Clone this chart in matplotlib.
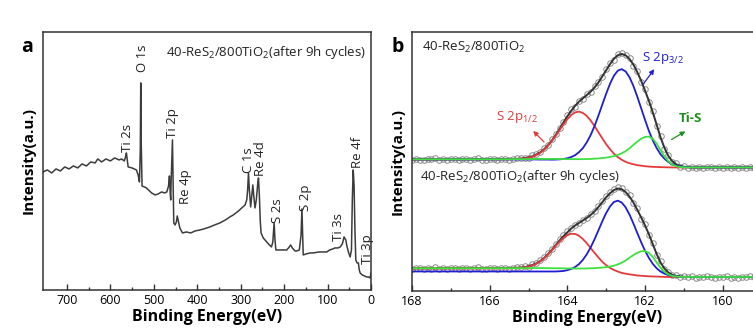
import numpy as np
import matplotlib
matplotlib.use("Agg")
import matplotlib.pyplot as plt

plt.rcParams['font.family'] = ['Open Sans', 'DejaVu Sans']
plt.rcParams['mathtext.fontset'] = 'custom'
plt.rcParams['mathtext.rm'] = 'Open Sans'
plt.rcParams['mathtext.it'] = 'Open Sans:italic'
plt.rcParams['mathtext.bf'] = 'Open Sans:bold'

# ---- panel a: survey spectrum (binding energy, intensity a.u.)
survey_E = [755, 745, 735, 725, 715, 705, 695, 685, 675, 665, 655, 645, 635, 629, 620, 610,
            600, 590, 580, 574, 568, 565, 563, 561, 559, 550, 540, 536, 533, 531, 530, 529,
            527, 522, 517, 510, 505, 497, 490, 482, 475, 470, 466, 464, 462, 461, 460, 458,
            457, 456, 455, 454, 451, 448, 446, 444, 440, 434, 425, 415, 405, 394, 385, 371,
            360, 348, 335, 325, 317, 305, 295, 290, 286, 284, 282, 280, 277, 275, 272, 270,
            267, 264, 261, 259, 257, 255, 253, 248, 240, 234, 229, 226, 223, 221, 219, 210,
            200, 194, 188, 185, 181, 175, 171, 165, 161, 159, 157, 156, 150, 140, 133, 120,
            110, 102, 95, 88, 83, 76, 71, 66, 62, 58, 56, 52, 48, 45, 43, 41,
            39, 37, 35, 32, 29, 27, 25, 20, 15, 10, 6, 2, 0]
survey_I = [118, 120, 117, 121, 119, 123, 121, 124, 122, 126, 124, 128, 127, 131, 128, 131,
            129, 132, 130, 131, 129, 133, 137, 130, 123, 122, 120, 115, 108, 140, 207, 150,
            104, 103, 102, 99, 97, 95, 96, 98, 97, 98, 104, 114, 95, 90, 110, 135,
            150, 120, 85, 67, 65, 68, 74, 70, 62, 57, 58, 57, 59, 60, 61, 63,
            65, 67, 70, 73, 75, 79, 83, 85, 90, 100, 117, 100, 83, 92, 105, 95,
            82, 90, 105, 112, 95, 70, 57, 52, 48, 45, 43, 48, 67, 50, 40, 40,
            40, 40, 43, 45, 42, 39, 39, 40, 55, 81, 50, 35, 36, 37, 37, 38,
            38, 38, 40, 41, 42, 42, 43, 46, 53, 50, 45, 38, 33, 40, 90, 120,
            105, 60, 30, 27, 27, 20, 17, 15, 14, 13, 13, 12, 17]

peak_labels = ['Ti 2s', 'O 1s', 'Ti 2p', 'Re 4p', 'C 1s', 'Re 4d', 'S 2s', 'S 2p',
               'Ti 3s', 'Re 4f', 'Ti 3p']
label_E = [560, 526, 456, 428, 281, 254, 216, 150, 74, 32, 7]
label_I = [138, 218, 152, 86, 117, 114, 67, 79, 49, 122, 26]

# ---- panel b: S 2p high resolution
E_fit = np.concatenate([[168.0, 165.5], np.round(np.arange(165.4, 160.55, -0.1), 1), [159.0]])
E_data = np.round(np.arange(168.0, 159.15, -0.1), 1)

# before cycling (upper spectrum)
top_red = [131.5, 131.6,
           131.7, 131.8, 132.0, 132.5, 133.2, 134.2, 135.9, 138.0, 141.1, 145.0,
           149.7, 155.1, 160.8, 166.6, 171.7, 175.9, 178.5, 179.3, 178.0, 175.0,
           170.4, 164.9, 158.7, 152.6, 146.7, 141.6, 137.3, 133.8, 131.2, 129.1,
           127.7, 126.7, 125.8, 125.3, 124.7, 124.4, 124.1, 124.0, 123.8, 123.7,
           123.6, 123.5, 123.5, 123.5, 123.5, 123.5, 123.5, 123.5, 123.5,
           123.5]
top_blue = [131.5, 131.5,
            131.5, 131.5, 131.5, 131.5, 131.5, 131.5, 131.5, 131.4, 131.4, 131.4, 131.3,
            131.4, 131.6, 132.0, 132.7, 133.9, 135.8, 138.8, 142.8, 148.6, 155.9,
            164.9, 175.3, 186.4, 197.3, 207.3, 215.3, 220.3, 221.8, 219.5, 213.7,
            205.0, 194.3, 182.7, 171.0, 160.0, 150.5, 142.8, 136.6, 132.2, 128.9,
            126.7, 125.4, 124.5, 124.0, 123.8, 123.5, 123.5, 123.5,
            123.5]
top_green = [131.6, 131.7,
             131.8, 131.8, 131.8, 131.8, 131.9, 131.9, 132.0, 132.0, 132.0, 132.0,
             132.0, 132.0, 131.9, 131.9, 131.8, 131.8, 131.8, 131.8, 131.8,
             131.9, 132.0, 132.3, 132.5, 132.9, 133.3, 134.0, 134.8, 136.0, 137.6,
             139.8, 142.6, 146.0, 149.3, 152.2, 154.0, 154.4, 152.2, 147.3, 140.7,
             134.5, 129.7, 126.5, 124.8, 124.0, 123.7, 123.5, 123.5, 123.5, 123.5,
             123.5]
top_env = [131.5, 131.9,
           132.0, 132.1, 132.3,
           132.8, 133.6, 134.6, 136.4, 138.5, 141.7, 145.6, 150.4, 155.9, 162.1,
           168.5, 174.6, 180.2, 185.1, 189.3, 192.6, 195.9, 199.3, 203.5, 208.5,
           214.5, 220.7, 226.9, 232.2, 235.7, 237.0, 235.6, 232.0, 226.3, 218.8,
           210.2, 200.3, 190.0, 178.6, 166.1, 153.5, 143.0, 135.0, 129.7, 126.7,
           125.0, 124.2, 123.8, 123.5, 123.5, 123.5,
           123.5]
top_data = [131.0, 132.2, 131.4, 130.8, 132.0, 131.6, 132.5, 131.1, 131.9, 130.9,
            132.3, 131.5, 131.2, 132.4, 131.7, 130.9, 131.8, 132.6, 131.3, 131.0,
            132.1, 131.6, 130.8, 131.9, 132.3, 131.4, 131.8, 132.5,
            132.9, 133.4, 133.0, 135.5, 137.2, 139.4, 142.8, 146.1, 151.5, 157.0,
            163.4, 169.2, 176.0, 181.5, 184.2, 190.1, 191.8, 196.9, 198.5, 204.6,
            209.3, 213.8, 222.0, 227.5, 231.4, 236.9, 238.0, 236.2, 233.1, 225.4,
            219.9, 209.1, 201.5, 189.0, 179.8, 165.0, 154.6, 142.1, 136.0, 129.0,
            127.5, 124.3, 125.0, 123.0, 124.2, 122.9, 123.8,
            123.1, 124.0, 123.5, 122.8, 123.9, 123.2, 124.1, 123.0, 123.6, 122.9,
            123.8, 123.3, 124.0, 123.1]

# after 9h cycles (lower spectrum)
bot_red = [22.5, 22.6,
           22.7, 22.8, 23.1, 23.5, 24.3, 25.5, 27.1, 29.5, 32.4, 36.2,
           40.4, 44.9, 49.3, 53.0, 55.8, 57.2, 57.0, 55.2, 51.9, 47.8,
           43.0, 38.1, 33.5, 29.2, 25.8,
           23.0, 21.0, 19.4, 18.1, 17.3, 16.6, 16.1, 15.5, 15.2, 14.9,
           14.7, 14.5, 14.4, 14.2, 14.1, 14.0,
           14.0, 14.0, 14.0, 14.0, 14.0, 14.0, 14.0, 14.0,
           14.0]
bot_blue = [19.5, 19.5,
            19.5, 19.5, 19.5, 19.5, 19.5, 19.5, 19.5, 19.5, 19.5, 19.5, 19.5,
            19.5, 19.7, 20.0, 20.8, 22.0, 24.0, 26.9, 31.1, 36.7, 43.6,
            51.7, 60.6, 69.7, 78.0, 84.6, 89.0, 90.3, 88.4, 83.6, 76.4,
            67.5, 58.0, 48.7, 40.2, 33.0, 27.1, 22.6, 19.4, 17.3, 16.0,
            15.0, 14.5, 14.3, 14.0, 14.0, 14.0, 14.0, 14.0,
            14.0]
bot_green = [22.7, 22.8,
             22.8, 22.8, 22.8, 22.8, 22.85, 22.9, 22.9, 22.9, 22.85, 22.8,
             22.75, 22.7, 22.7, 22.6, 22.5, 22.5, 22.45, 22.45, 22.45, 22.55,
             22.7, 22.8, 23.1, 23.4, 23.8, 24.4, 25.3, 26.6, 28.3, 30.5,
             33.2, 35.9, 38.2, 39.6, 39.9, 38.1, 33.9, 28.5, 23.2, 19.2,
             16.6, 15.1, 14.4, 14.2, 14.0, 14.0, 14.0, 14.0, 14.0,
             14.0]
bot_env = [22.6, 23.0,
           23.1, 23.2, 23.4, 23.8, 24.7, 25.9, 27.5, 29.9, 32.9, 36.7,
           41.0, 45.8, 50.5, 54.8, 58.6, 62.5, 65.5, 68.0, 70.5, 73.0,
           76.0, 79.5, 84.0, 88.7, 93.7, 97.8, 100.9, 102.4, 101.7, 98.9,
           94.4, 88.4, 81.2, 73.5, 65.5, 56.6, 46.7, 36.9, 28.5, 22.4,
           18.5, 16.1, 14.9, 14.5, 14.2, 14.0, 14.0, 14.0, 14.0,
           14.0]
bot_data = [22.0, 23.3, 22.6, 21.8, 23.0, 22.4, 23.5, 22.1, 22.9, 21.9,
            23.2, 22.5, 22.2, 23.4, 22.7, 21.9, 22.8, 23.6, 22.3, 22.0,
            23.1, 22.6, 21.8, 22.9, 23.3, 22.4, 22.8, 23.5,
            23.9, 24.5, 24.2, 26.7, 28.4, 30.6, 34.0, 37.5, 42.3, 46.9,
            51.8, 55.5, 60.1, 63.4, 66.0, 67.6, 71.3, 72.8, 77.2, 80.4,
            85.1, 89.6, 94.9, 98.5, 101.8, 103.6, 102.6, 99.4, 95.6, 87.5,
            82.6, 72.4, 66.7, 55.5, 47.9, 35.8, 29.6, 21.5, 19.2, 15.5,
            15.8, 13.6, 14.9, 13.5, 14.6, 13.3, 14.2,
            13.6, 14.5, 13.9, 13.2, 14.4, 13.7, 14.6, 13.4, 14.0, 13.3,
            14.3, 13.8, 14.5, 13.5]

RED = '#e23b3b'
BLUE = '#1f1fd0'
GREEN = '#3fe03f'
DKGREEN = '#1e8f1e'
DARK = '#333333'

fig = plt.figure(figsize=(7.53, 3.36), dpi=100)
ax1 = fig.add_axes([0.0571, 0.137, 0.4356, 0.768])
ax2 = fig.add_axes([0.5471, 0.134, 0.4643, 0.771])

# a. survey
ax1.plot(survey_E, survey_I, color='#3c3c3c', lw=1.1)
for lab, e, i in zip(peak_labels, label_E, label_I):
    ax1.text(e, i, lab, rotation=90, ha='center', va='bottom', fontsize=9.5, color='#222222')
ax1.text(0.985, 0.955, '40-ReS$_2$/800TiO$_2$(after 9h cycles)', transform=ax1.transAxes,
         ha='right', va='top', fontsize=9.5, color='#222222')
ax1.set_xlim(755, 0)
ax1.set_ylim(0, 258)
ax1.set_xticks([700, 600, 500, 400, 300, 200, 100, 0])
ax1.set_xticks([650, 550, 450, 350, 250, 150, 50], minor=True)
ax1.set_yticks([])
ax1.set_xlabel('Binding Energy(eV)', fontsize=11.5, fontweight='bold', labelpad=1)
ax1.set_ylabel('Intensity(a.u.)', fontsize=11, fontweight='bold', labelpad=5)
ax1.text(-0.049, 0.94, 'a', transform=ax1.transAxes, fontsize=14, fontweight='bold',
         ha='center', va='center')

# b. S 2p
for d, env, r, b, g in [(top_data, top_env, top_red, top_blue, top_green),
                        (bot_data, bot_env, bot_red, bot_blue, bot_green)]:
    ax2.plot(E_data, d, 'o', ms=4, mfc='none', mec='#8a8a8a', mew=0.7)
    ax2.plot(E_fit, env, color=DARK, lw=1.4)
    ax2.plot(E_fit, r, color=RED, lw=1.3)
    ax2.plot(E_fit, b, color=BLUE, lw=1.3)
    ax2.plot(E_fit, g, color=GREEN, lw=1.3)

ax2.text(167.75, 243, '40-ReS$_2$/800TiO$_2$', fontsize=9.5, color='#222222', va='center')
ax2.text(167.8, 114, '40-ReS$_2$/800TiO$_2$(after 9h cycles)', fontsize=9.5,
         color='#222222', va='center')
ax2.text(161.54, 233, 'S 2p$_{3/2}$', color=BLUE, fontsize=9.5, ha='center', va='center')
ax2.annotate('', xy=(161.72, 224), xytext=(162.08, 205),
             arrowprops=dict(arrowstyle='-|>', color=BLUE, lw=0.9, mutation_scale=7))
ax2.text(165.3, 174, 'S 2p$_{1/2}$', color=RED, fontsize=9.5, ha='center', va='center')
ax2.annotate('', xy=(164.93, 162), xytext=(164.55, 147),
             arrowprops=dict(arrowstyle='-|>', color=RED, lw=0.9, mutation_scale=7))
ax2.text(160.84, 172, 'Ti-S', color=DKGREEN, fontsize=9.5, fontweight='bold',
         ha='center', va='center')
ax2.annotate('', xy=(160.9, 161), xytext=(161.38, 150),
             arrowprops=dict(arrowstyle='-|>', color=DKGREEN, lw=0.9, mutation_scale=7))

ax2.set_xlim(168, 159.0)
ax2.set_ylim(0, 259)
ax2.set_xticks([168, 166, 164, 162, 160])
ax2.set_xticks([167, 165, 163, 161], minor=True)
ax2.set_yticks([])
ax2.set_xlabel('Binding Energy(eV)', fontsize=11.5, fontweight='bold', labelpad=1)
ax2.set_ylabel('Intensity(a.u.)', fontsize=11, fontweight='bold', labelpad=5)
ax2.text(-0.04, 0.942, 'b', transform=ax2.transAxes, fontsize=14, fontweight='bold',
         ha='center', va='center')

for ax in (ax1, ax2):
    for s in ax.spines.values():
        s.set_color(DARK)
        s.set_linewidth(1.1)
    ax.tick_params(axis='x', which='major', direction='in', length=4, width=1,
                   color=DARK, labelsize=9, pad=3)
    ax.tick_params(axis='x', which='minor', direction='in', length=2.5, width=1, color=DARK)

fig.savefig('out.png', dpi=100)
